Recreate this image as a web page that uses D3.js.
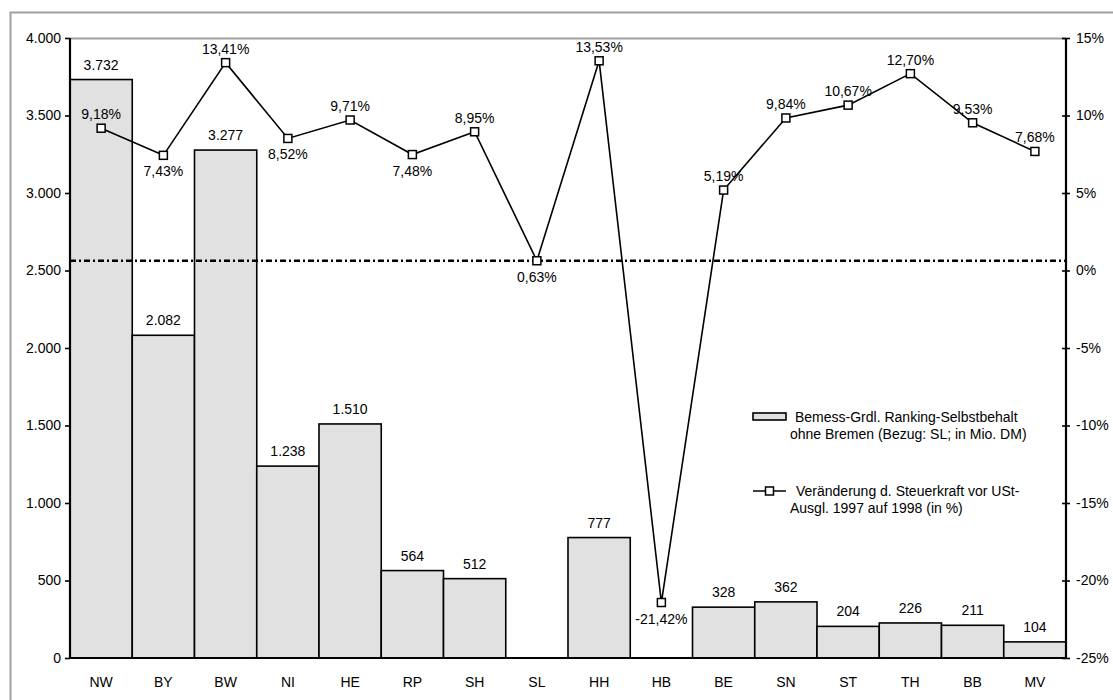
<!DOCTYPE html>
<html>
<head>
<meta charset="utf-8">
<script src="https://cdn.jsdelivr.net/npm/d3@7"></script>
<style>
  body { margin: 0; background: #fff; }
  svg text { font-family: "Liberation Sans", Arial, sans-serif; fill: #000; }
</style>
</head>
<body>
<div id="chart"></div>
<script>
// data
const laender = ["NW", "BY", "BW", "NI", "HE", "RP", "SH", "SL", "HH", "HB", "BE", "SN", "ST", "TH", "BB", "MV"];
const selbstbehalt = [3732, 2082, 3277, 1238, 1510, 564, 512, null, 777, null, 328, 362, 204, 226, 211, 104];
const veraenderung = [9.18, 7.43, 13.41, 8.52, 9.71, 7.48, 8.95, 0.63, 13.53, -21.42, 5.19, 9.84, 10.67, 12.70, 9.53, 7.68];
const leftTicks = [0, 500, 1000, 1500, 2000, 2500, 3000, 3500, 4000];
const rightTicks = [-25, -20, -15, -10, -5, 0, 5, 10, 15];
const bezug = "SL";
const legendBar = ["Bemess-Grdl. Ranking-Selbstbehalt", "ohne Bremen (Bezug: SL; in Mio. DM)"];
const legendLine = ["Veränderung d. Steuerkraft vor USt-", "Ausgl. 1997 auf 1998 (in %)"];

const width = 1113, height = 700;
const margin = { top: 38, left: 70, right: 47, bottom: 42 };
const w = width - margin.left - margin.right;
const h = height - margin.top - margin.bottom;
const fs = 14;

const svg = d3.select("#chart").append("svg")
    .attr("width", width)
    .attr("height", height);

// outer frame
svg.append("rect")
    .attr("x", 10.5).attr("y", 12.5)
    .attr("width", width).attr("height", height)
    .attr("fill", "none")
    .attr("stroke", "#a0a0a0")
    .attr("stroke-width", 2);

const g = svg.append("g").attr("transform", `translate(${margin.left},${margin.top})`);

const x = d3.scaleBand().domain(laender).range([0, w]).padding(0);
const y = d3.scaleLinear().domain([0, 4000]).range([h, 0]);
const y2 = d3.scaleLinear().domain([-25, 15]).range([h, 0]);

const de = d3.formatLocale({ decimal: ",", thousands: ".", grouping: [3], currency: ["", " €"], minus: "-" });
const fmtInt = de.format(",d");
const fmtPct = v => de.format(".2f")(v) + "%";

// plot area top border
g.append("line")
    .attr("x1", 0).attr("x2", w)
    .attr("y1", 0.5).attr("y2", 0.5)
    .attr("stroke", "#a0a0a0")
    .attr("stroke-width", 2);

const barData = laender.map((k, i) => ({ k, v: selbstbehalt[i] })).filter(d => d.v != null);

g.selectAll("rect.bar")
    .data(barData)
    .join("rect")
    .attr("class", "bar")
    .attr("x", d => x(d.k))
    .attr("y", d => y(d.v))
    .attr("width", x.bandwidth())
    .attr("height", d => y(0) - y(d.v))
    .attr("fill", "#e1e1e1")
    .attr("stroke", "#000")
    .attr("stroke-width", 1.6);

g.selectAll("text.barlab")
    .data(barData)
    .join("text")
    .attr("class", "barlab")
    .attr("x", d => x(d.k) + x.bandwidth() / 2)
    .attr("y", d => y(d.v) - 10)
    .attr("text-anchor", "middle")
    .attr("font-size", fs)
    .text(d => fmtInt(d.v));

// reference line at the Bezug value
const refVal = veraenderung[laender.indexOf(bezug)];
g.append("line")
    .attr("x1", 0).attr("x2", w)
    .attr("y1", y2(refVal)).attr("y2", y2(refVal))
    .attr("stroke", "#000")
    .attr("stroke-width", 2.5)
    .attr("stroke-dasharray", "6,3,2,3");

// line series
const lineData = laender.map((k, i) => ({ k, v: veraenderung[i], i }));
const cx = d => x(d.k) + x.bandwidth() / 2;

g.append("path")
    .datum(lineData)
    .attr("fill", "none")
    .attr("stroke", "#000")
    .attr("stroke-width", 1.6)
    .attr("d", d3.line().x(cx).y(d => y2(d.v)));

g.selectAll("rect.marker")
    .data(lineData)
    .join("rect")
    .attr("class", "marker")
    .attr("x", d => cx(d) - 4)
    .attr("y", d => y2(d.v) - 4)
    .attr("width", 8).attr("height", 8)
    .attr("fill", "#fff")
    .attr("stroke", "#000")
    .attr("stroke-width", 1.5);

// label below when the point is a local minimum
const below = d => d.i > 0 && d.i < lineData.length - 1 &&
    d.v < lineData[d.i - 1].v && d.v < lineData[d.i + 1].v;

g.selectAll("text.pctlab")
    .data(lineData)
    .join("text")
    .attr("class", "pctlab")
    .attr("x", cx)
    .attr("y", d => below(d) ? y2(d.v) + 21 : y2(d.v) - 9)
    .attr("text-anchor", "middle")
    .attr("font-size", fs)
    .text(d => fmtPct(d.v));

// axes
const yAxis = d3.axisLeft(y).tickValues(leftTicks).tickSize(5).tickPadding(4).tickFormat(fmtInt);
const yAxis2 = d3.axisRight(y2).tickValues(rightTicks).tickSize(4).tickPadding(6).tickFormat(d => d + "%");
const xAxis = d3.axisBottom(x).tickSize(0).tickPadding(19);

const ga = g.append("g").call(yAxis);
const gb = g.append("g").attr("transform", `translate(${w},0)`).call(yAxis2);
const gc = g.append("g").attr("transform", `translate(0,${h})`).call(xAxis);

gb.selectAll(".tick line").attr("x1", -4);

[ga, gb, gc].forEach(a => {
    a.select(".domain").attr("stroke", "#000").attr("stroke-width", 2.2);
    a.selectAll(".tick line").attr("stroke", "#000").attr("stroke-width", 1.6);
    a.selectAll("text").attr("font-size", fs).attr("fill", "#000")
        .style("font-family", '"Liberation Sans", Arial, sans-serif');
});
ga.select(".domain").attr("d", `M0,0V${h}`);
gb.select(".domain").attr("d", `M0,0V${h}`);
gc.select(".domain").attr("d", `M0,0H${w}`);

// legend
const leg = svg.append("g");
leg.append("rect")
    .attr("x", 753).attr("y", 413)
    .attr("width", 33).attr("height", 7)
    .attr("fill", "#e1e1e1")
    .attr("stroke", "#000")
    .attr("stroke-width", 1.6);
leg.selectAll("text.l1")
    .data(legendBar)
    .join("text")
    .attr("class", "l1")
    .attr("x", (d, i) => i === 0 ? 795 : 790)
    .attr("y", (d, i) => 422 + i * 16.5)
    .attr("font-size", fs)
    .text(d => d);

leg.append("line")
    .attr("x1", 753).attr("x2", 786)
    .attr("y1", 491).attr("y2", 491)
    .attr("stroke", "#000").attr("stroke-width", 1.6);
leg.append("rect")
    .attr("x", 765.5).attr("y", 487)
    .attr("width", 8).attr("height", 8)
    .attr("fill", "#fff")
    .attr("stroke", "#000")
    .attr("stroke-width", 1.5);
leg.selectAll("text.l2")
    .data(legendLine)
    .join("text")
    .attr("class", "l2")
    .attr("x", (d, i) => i === 0 ? 796 : 790)
    .attr("y", (d, i) => 496 + i * 16.5)
    .attr("font-size", fs)
    .text(d => d);
</script>
</body>
</html>
